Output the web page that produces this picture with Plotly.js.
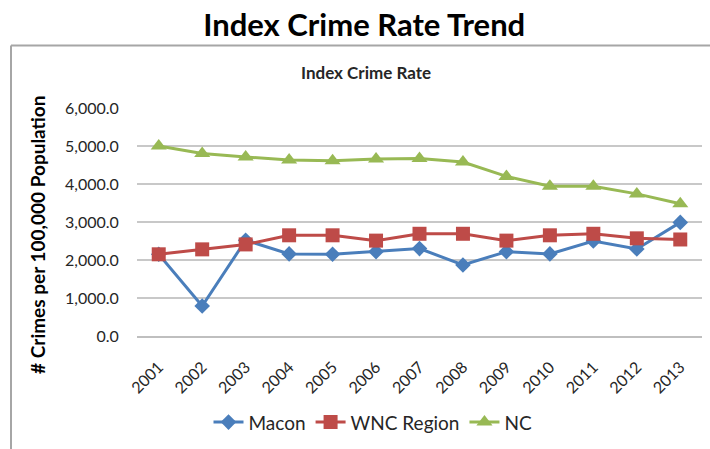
<!DOCTYPE html>
<html>
<head>
<meta charset="utf-8">
<script src="https://cdn.plot.ly/plotly-3.0.1.min.js"></script>
<style>
html,body{margin:0;padding:0;background:#fff;}
#chart{width:710px;height:449px;}
</style>
</head>
<body>
<div id="chart"></div>
<script>
const years = ["2001","2002","2003","2004","2005","2006","2007","2008","2009","2010","2011","2012","2013"];
const macon = [2150, 790, 2520, 2160, 2150, 2220, 2300, 1870, 2220, 2160, 2500, 2290, 2990];
const wnc = [2150, 2280, 2410, 2650, 2650, 2510, 2690, 2690, 2510, 2650, 2690, 2570, 2540];
const nc = [5000, 4800, 4710, 4630, 4610, 4660, 4670, 4580, 4200, 3940, 3940, 3740, 3480];
const yTicks = [0, 1000, 2000, 3000, 4000, 5000, 6000];
const yTickText = ["0.0", "1,000.0", "2,000.0", "3,000.0", "4,000.0", "5,000.0", "6,000.0"];

const FONT = "Lato, 'Open Sans', sans-serif";
const L = 137, R = 8, T = 108, B = 111;
const W = 710, H = 449;
const pw = W - L - R, ph = H - T - B;
const px = v => (v - L) / pw;
const py = v => 1 - (v - T) / ph;

const traces = [
  {name: "Macon", x: years, y: macon, type: "scatter", mode: "lines+markers",
   line: {color: "#4A7EBB", width: 3}, marker: {symbol: "diamond", size: 12, color: "#4A7EBB"}},
  {name: "WNC Region", x: years, y: wnc, type: "scatter", mode: "lines+markers",
   line: {color: "#BE4B48", width: 3}, marker: {symbol: "square", size: 14, color: "#BE4B48"}},
  {name: "NC", x: years, y: nc, type: "scatter", mode: "lines+markers",
   line: {color: "#98B954", width: 3}, marker: {symbol: "triangle-up", size: 14, color: "#98B954"}}
];

const layout = {
  width: W, height: H,
  margin: {l: L, r: R, t: T, b: B, pad: 0},
  paper_bgcolor: "#fff", plot_bgcolor: "#fff",
  font: {family: FONT, color: "#404040"},
  showlegend: true,
  legend: {orientation: "h", x: px(373), xanchor: "center", y: py(425), yanchor: "middle",
           font: {size: 19, color: "#262626", family: FONT}, traceorder: "normal"},
  xaxis: {type: "category", range: [-0.5, 12.5], showgrid: false, showline: true,
          linecolor: "#BFBFBF", linewidth: 1.5, tickangle: -45, ticks: "outside", ticklen: 14,
          tickcolor: "rgba(0,0,0,0)", tickfont: {size: 16, color: "#262626", family: FONT},
          fixedrange: true},
  yaxis: {range: [0, 6000], tickvals: yTicks, ticktext: yTickText, showgrid: true,
          gridcolor: "#C8C8C8", gridwidth: 1.5, zeroline: false, showline: false,
          ticks: "outside", ticklen: 14, tickcolor: "rgba(0,0,0,0)",
          tickfont: {size: 16, color: "#262626", family: FONT}, fixedrange: true},
  title: {text: "<b>Index Crime Rate Trend</b>", x: 0.513, xanchor: "center", y: 1 - 25 / H, yanchor: "middle",
          font: {size: 31, color: "#000", family: FONT}},
  annotations: [
    {text: "<b>Index Crime Rate</b>", xref: "paper", yref: "paper", x: px(366), y: py(72),
     xanchor: "center", yanchor: "middle", showarrow: false, font: {size: 17, color: "#262626", family: FONT}},
    {text: "<b># Crimes per 100,000 Population</b>", xref: "paper", yref: "paper", x: px(38), y: py(236),
     xanchor: "center", yanchor: "middle", textangle: -90, showarrow: false,
     font: {size: 19, color: "#000", family: FONT}}
  ],
  shapes: [
    {type: "line", xref: "paper", yref: "paper", x0: px(11), x1: px(712), y0: py(45), y1: py(45),
     line: {color: "#A6A6A6", width: 2}},
    {type: "line", xref: "paper", yref: "paper", x0: px(11), x1: px(11), y0: py(45), y1: py(452),
     line: {color: "#A6A6A6", width: 2}}
  ]
};

Plotly.newPlot("chart", traces, layout, {displayModeBar: false, staticPlot: true});
</script>
</body>
</html>
